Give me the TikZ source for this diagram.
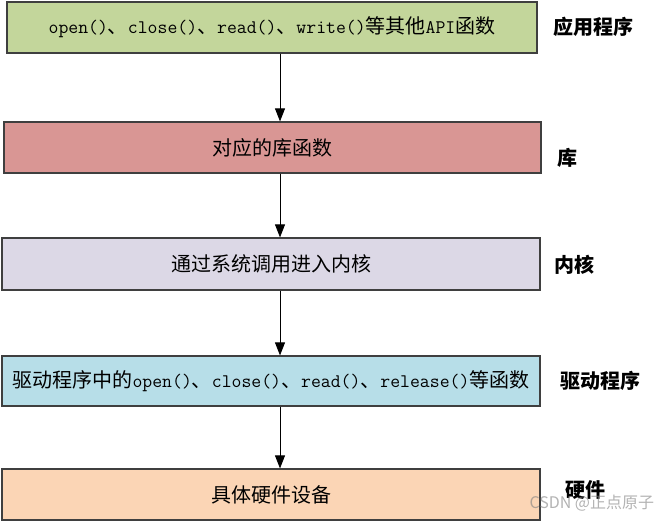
\documentclass[tikz,border=0pt]{standalone}
\usepackage{fontspec}
\setmainfont{Noto Sans CJK SC}
\setmonofont{Latin Modern Mono}[Scale=0.96]
\usetikzlibrary{arrows.meta}
\definecolor{appgreen}{HTML}{C3D69B}
\definecolor{libred}{HTML}{D99694}
\definecolor{kernlilac}{HTML}{DCD8E6}
\definecolor{drvblue}{HTML}{B7DEE8}
\definecolor{hwpeach}{HTML}{FBD5B5}
\definecolor{boxline}{HTML}{3F3F3F}
\begin{document}
\begin{tikzpicture}[x=1pt,y=-1pt,
    box/.style={draw=boxline,line width=1.2pt,inner sep=0pt,
      font=\fontsize{20}{20}\selectfont},
    tag/.style={anchor=west,font=\fontsize{20}{20}\selectfont\bfseries},
    flow/.style={-{Triangle[length=13pt,width=10pt]},line width=0.8pt}]
  \useasboundingbox (0,0) rectangle (666,523);

  \node[box,fill=appgreen,minimum width=530pt,minimum height=51pt] (app) at (272,27.5)
    {{\ttfamily open()}、{\ttfamily close()}、{\ttfamily read()}、{\ttfamily write()}等其他{\ttfamily API}函数};
  \node[box,fill=libred,minimum width=537pt,minimum height=51pt] (lib) at (272.5,147.5)
    {对应的库函数};
  \node[box,fill=kernlilac,minimum width=538pt,minimum height=52pt] (kern) at (271,264)
    {通过系统调用进入内核};
  \node[box,fill=drvblue,minimum width=538pt,minimum height=50pt] (drv) at (271,381)
    {驱动程序中的{\ttfamily open()}、{\ttfamily close()}、{\ttfamily read()}、{\ttfamily release()}等函数};
  \node[box,fill=hwpeach,minimum width=538pt,minimum height=51pt] (hw) at (271,494.5)
    {具体硬件设备};

  \node[tag] (apptag) at (550,27) {应用程序};
  \node[tag] (libtag) at (554,158) {库};
  \node[tag] (kerntag) at (551,265) {内核};
  \node[tag] (drvtag) at (557,381) {驱动程序};
  \node[tag] (hwtag) at (562,490) {硬件};

  \coordinate (ax) at (280,0);
  \foreach \a/\b in {app/lib,lib/kern,kern/drv,drv/hw}
    \draw[flow] (\a.south -| ax) -- (\b.north -| ax);

  \node[anchor=west,text=gray,opacity=0.6,font=\fontsize{16}{16}\selectfont] (mark) at (526,503) {CSDN @正点原子};
\end{tikzpicture}
\end{document}
